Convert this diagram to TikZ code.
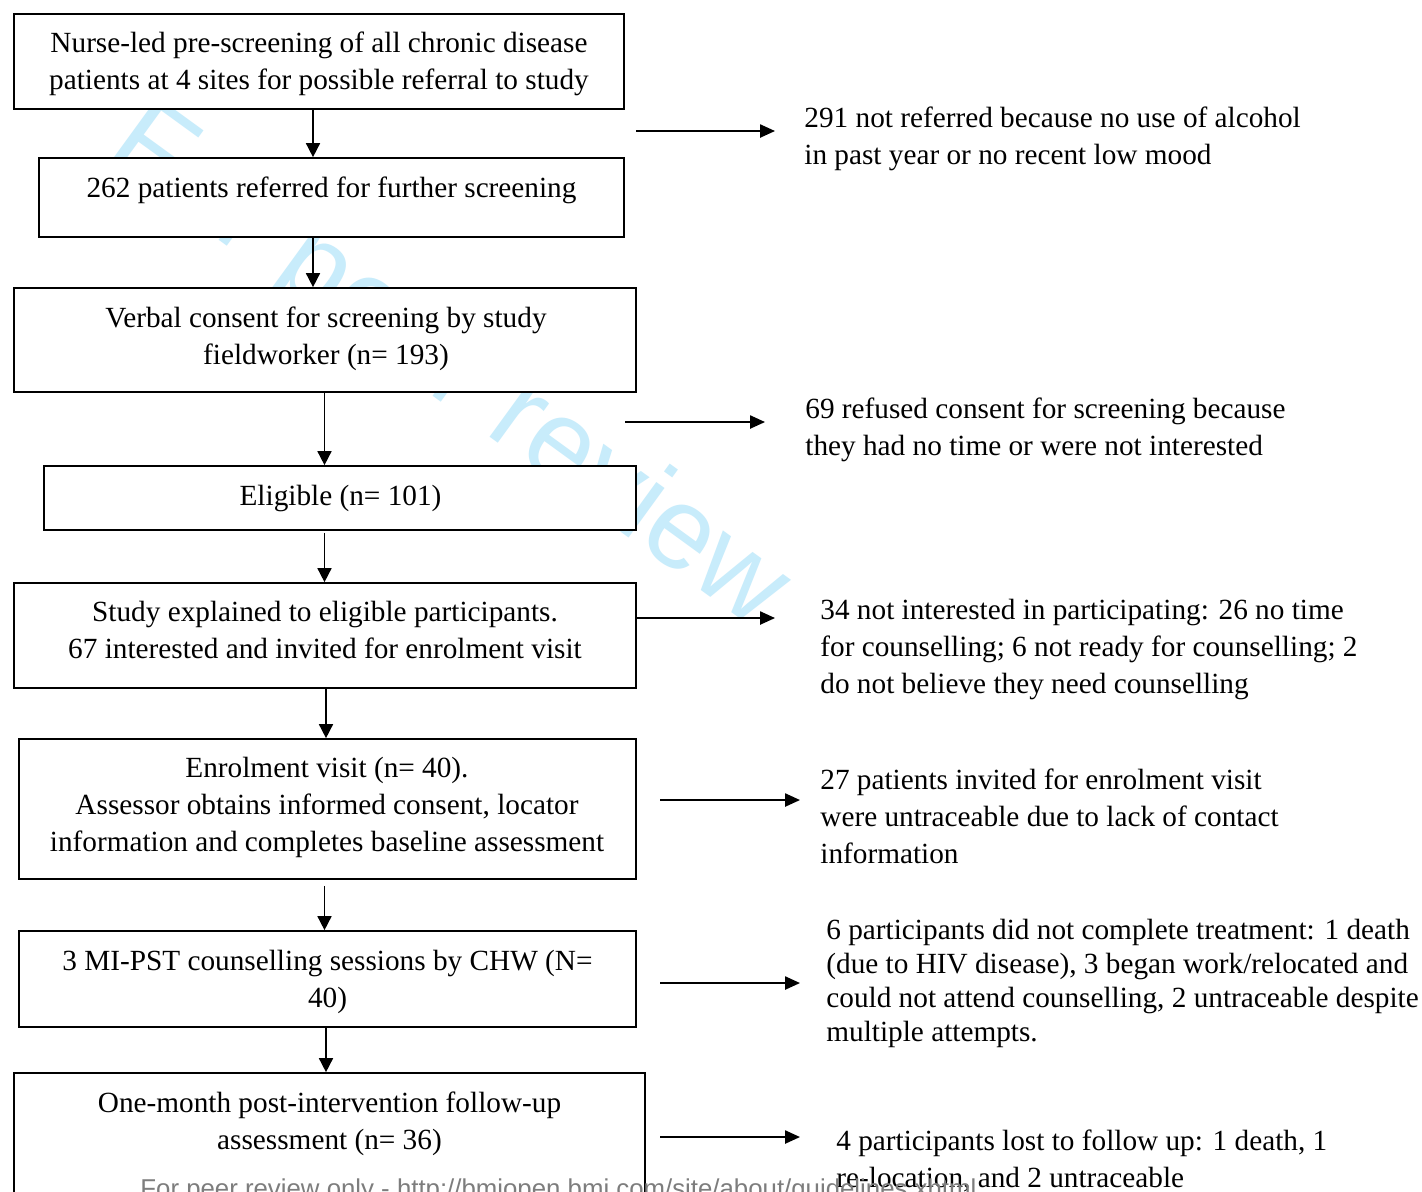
\documentclass[tikz,border=0pt]{standalone}
\usepackage{fontspec}
\setmainfont{Liberation Serif}
\newfontfamily\sansfam{Liberation Sans}
\usetikzlibrary{arrows.meta,fit}
\definecolor{wmcol}{RGB}{200,236,251}
\definecolor{footcol}{RGB}{125,125,125}
\begin{document}
\begin{tikzpicture}[x=0.5pt,y=-0.5pt,
  box/.style={draw, line width=0.85pt, fill=white, inner sep=0pt},
  ctxt/.style={align=center, inner sep=0pt, anchor=north,
    font=\fontsize{14.63}{18.5}\selectfont,
    execute at begin node=\rule{0pt}{10.5pt}},
  ltxt/.style={align=left, inner sep=0pt, anchor=north west,
    font=\fontsize{14.63}{18.5}\selectfont,
    execute at begin node=\rule{0pt}{10.5pt}},
  ltxtb/.style={ltxt, font=\fontsize{14.63}{16.9}\selectfont},
  varrow/.style={line width=0.8pt, -{Triangle[length=7pt,width=7pt]}},
  harrow/.style={line width=0.9pt, -{Triangle[length=7.5pt,width=6.6pt]}},
  wmark/.style={text=wmcol, inner sep=0pt, anchor=base west, rotate=-36,
    font=\sansfam\fontsize{58}{60}\selectfont},
  footer/.style={text=footcol, inner sep=0pt, anchor=base west,
    font=\sansfam\fontsize{12.9}{14}\selectfont}
]
\clip (0,0) rectangle (1422,1191);
\useasboundingbox (0,0) rectangle (1422,1191);
\fill[white] (0,0) rectangle (1422,1191);

% watermark
\node[wmark] (wm) at (103,156) {For peer review};

% boxes
\node[box, fit={(14,14) (624,109)}] (b1) {};
\node[box, fit={(39,158) (624,237)}] (b2) {};
\node[box, fit={(14,288) (636,392)}] (b3) {};
\node[box, fit={(44,466) (636,530)}] (b4) {};
\node[box, fit={(14,583) (636,688)}] (b5) {};
\node[box, fit={(19,739) (636,879)}] (b6) {};
\node[box, fit={(19,931) (636,1027)}] (b7) {};
\node[box, fit={(14,1073) (645,1240)}] (b8) {};

% box texts
\node[ctxt] (t1) at (319,31) {Nurse-led pre-screening of all chronic disease\\patients at 4 sites for possible referral to study};
\node[ctxt] (t2) at (331.5,176) {262 patients referred for further screening};
\node[ctxt] (t3) at (326,306) {Verbal consent for screening by study\\fieldworker (n= 193)};
\node[ctxt] (t4) at (340.5,484) {Eligible (n= 101)};
\node[ctxt] (t5) at (325,601) {Study explained to eligible participants.\\67 interested and invited for enrolment visit};
\node[ctxt] (t6) at (327,756.5) {Enrolment visit (n= 40).\\Assessor obtains informed consent, locator\\information and completes baseline assessment};
\node[ctxt] (t7) at (327.5,949.5) {3 MI-PST counselling sessions by CHW (N=\\40)};
\node[ctxt] (t8) at (329.5,1091) {One-month post-intervention follow-up\\assessment (n= 36)};

% side texts
\node[ltxt] (r1) at (804,106) {291 not referred because no use of alcohol\\in past year or no recent low mood};
\node[ltxt] (r2) at (805,397) {69 refused consent for screening because\\they had no time or were not interested};
\node[ltxt] (r3) at (820,599) {34 not interested in participating: 26 no time\\for counselling; 6 not ready for counselling; 2\\do not believe they need counselling};
\node[ltxt] (r4) at (820,768) {27 patients invited for enrolment visit\\were untraceable due to lack of contact\\information};
\node[ltxtb] (r5) at (826,919) {6 participants did not complete treatment: 1 death\\(due to HIV disease), 3 began work/relocated and\\could not attend counselling, 2 untraceable despite\\multiple attempts.};
\node[ltxt] (r6) at (836,1129) {4 participants lost to follow up: 1 death, 1\\re-location, and 2 untraceable};

% arrow columns
\coordinate (c1) at (313,0);
\coordinate (c2) at (324.5,0);
\coordinate (c3) at (326,0);
\draw[varrow] (b1.south -| c1) -- (b2.north -| c1);
\draw[varrow] (b2.south -| c1) -- (b3.north -| c1);
\draw[varrow] (b3.south -| c2) -- (b4.north -| c2);
\draw[varrow, shorten <=1pt] (b4.south -| c2) -- (b5.north -| c2);
\draw[varrow] (b5.south -| c3) -- (b6.north -| c3);
\draw[varrow, shorten <=3pt] (b6.south -| c2) -- (b7.north -| c2);
\draw[varrow] (b7.south -| c3) -- (b8.north -| c3);

% side arrows
\coordinate (s1a) at (636,131);  \coordinate (s1b) at (775,131);
\coordinate (s2a) at (625,422);  \coordinate (s2b) at (765,422);
\coordinate (s3a) at (636,618);  \coordinate (s3b) at (775,618);
\coordinate (s4a) at (660,800);  \coordinate (s4b) at (800,800);
\coordinate (s5a) at (660,983);  \coordinate (s5b) at (800,983);
\coordinate (s6a) at (660,1137); \coordinate (s6b) at (800,1137);
\draw[harrow] (s1a) -- (s1b);
\draw[harrow] (s2a) -- (s2b);
\draw[harrow] (b5.east |- s3a) -- (s3b);
\draw[harrow] (s4a) -- (s4b);
\draw[harrow] (s5a) -- (s5b);
\draw[harrow] (s6a) -- (s6b);

% footer
\node[footer] (ft) at (140,1197) {For peer review only - http://bmjopen.bmj.com/site/about/guidelines.xhtml};
\end{tikzpicture}
\end{document}
